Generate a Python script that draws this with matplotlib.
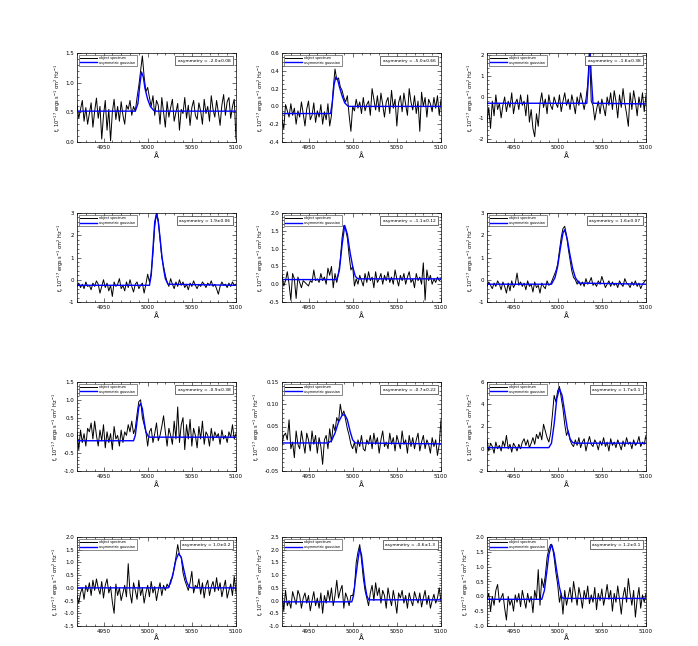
import numpy as np
import matplotlib
matplotlib.use('Agg')
import matplotlib.pyplot as plt

# observed spectra, sampled every 2 A from 4920 to 5100
flux_1 = [0.62, 0.40, 0.55, 0.70, 0.35, 0.58, 0.30, 0.48, 0.66, 0.25,
          0.52, 0.74, 0.40, 0.60, 0.05, 0.45, 0.70, 0.20, 0.55, 0.02,
          0.50, 0.72, 0.38, 0.60, 0.35, 0.68, 0.45, 0.30, 0.62, 0.55,
          0.70, 0.45, 0.60, 0.52, 0.75, 0.95, 1.20, 1.45, 1.10, 0.85,
          0.92, 0.75, 0.60, 0.78, 0.45, 0.70, 0.62, 0.30, 0.75, 0.50,
          0.25, 0.68, 0.42, 0.58, 0.72, 0.35, 0.50, 0.65, 0.20, 0.55,
          0.48, 0.75, 0.40, 0.62, 0.28, 0.58, 0.70, 0.45, 0.38, 0.66,
          0.52, 0.30, 0.72, 0.48, 0.60, 0.35, 0.78, 0.55, 0.42, 0.70,
          0.50, 0.28, 0.62, 0.80, 0.45, 0.68, 0.75, 0.40, 0.60, 0.72,
          0.05]
flux_2 = [-0.15, -0.25, 0.02, -0.05, -0.12, 0.03, -0.10, -0.02, -0.20, -0.05,
          -0.12, 0.05, -0.08, -0.22, -0.03, 0.06, -0.15, -0.10, 0.04, -0.18,
          -0.05, -0.12, 0.02, -0.20, -0.06, -0.15, 0.03, -0.22, -0.10, 0.20,
          0.42, 0.30, 0.32, 0.22, 0.18, 0.10, 0.05, 0.12, -0.10, -0.28,
          0.00, -0.05, 0.08, -0.02, 0.05, -0.08, 0.10, -0.05, 0.02, 0.06,
          -0.10, 0.20, 0.08, -0.04, 0.12, -0.06, 0.15, 0.02, -0.12, 0.05,
          0.10, -0.08, 0.18, -0.02, 0.08, -0.22, 0.04, 0.12, -0.06, 0.15,
          0.02, -0.10, 0.20, 0.05, -0.04, 0.12, -0.08, 0.06, -0.28, 0.16,
          0.00, 0.10, -0.12, 0.08, 0.03, -0.06, 0.10, -0.02, 0.12, -0.10,
          0.08]
flux_3 = [-1.2, -0.5, -1.5, -0.2, -0.9, 0.1, -0.6, -0.3, -1.0, -0.4,
          0.0, -0.7, -0.2, -0.5, 0.2, -0.8, -0.3, -0.1, -0.6, 0.1,
          -0.4, -0.2, -0.9, 0.1, -1.2, -0.6, -1.5, -1.9, -0.8, -1.4,
          -0.3, 0.2, -0.5, -0.1, -0.8, 0.1, -0.4, -0.6, 0.0, -0.3,
          -0.5, 0.1, -0.7, -0.2, 0.2, -0.4, -0.1, -0.6, 0.1, -0.3,
          -0.8, 0.0, -0.4, 0.2, -0.2, -0.6, -0.1, 0.6, 2.3, -0.2,
          -0.4, -1.1, -0.6, -0.2, -0.8, -0.1, -0.5, -0.9, 0.0, -0.4,
          0.2, -0.6, 0.3, -0.2, -1.0, 0.1, -0.5, 0.4, -0.3, -0.8,
          -1.4, 0.2, -0.6, 0.3, -0.2, -0.9, 0.0, -0.5, 0.2, -0.7,
          0.1]
flux_4 = [-0.30, -0.15, -0.35, -0.20, -0.40, -0.10, -0.30, -0.25, -0.45, -0.15,
          -0.30, -0.05, -0.20, -0.60, -0.30, 0.00, -0.35, -0.15, -0.50, -0.25,
          -0.75, -0.10, -0.30, -0.20, 0.05, -0.40, -0.25, -0.50, -0.10, -0.35,
          0.00, -0.30, -0.55, -0.20, -0.10, -0.40, -0.25, -0.15, -0.60, -0.20,
          0.25, -0.10, 0.30, 1.20, 2.40, 3.00, 2.70, 1.80, 1.00, 0.60,
          0.20, -0.10, -0.30, 0.05, -0.20, -0.40, -0.10, -0.30, 0.00, -0.25,
          -0.10, -0.35, -0.20, -0.45, -0.15, -0.30, -0.05, -0.25, -0.40, -0.20,
          -0.30, -0.10, -0.20, -0.35, -0.15, -0.25, -0.05, -0.30, -0.20, -0.40,
          -0.65, -0.30, -0.10, -0.25, -0.20, -0.35, -0.15, -0.30, -0.10, -0.25,
          -0.20]
flux_5 = [0.25, -0.05, 0.10, 0.35, 0.00, -0.45, 0.30, 0.15, -0.40, 0.20,
          0.05, -0.10, 0.10, 0.05, 0.00, -0.05, 0.10, 0.05, 0.40, 0.10,
          0.15, 0.05, 0.30, 0.10, 0.20, 0.00, 0.45, 0.25, 0.50, -0.10,
          0.30, 0.05, 0.30, 0.70, 1.30, 1.65, 1.55, 1.30, 0.80, 0.40,
          0.50, -0.05, 0.15, 0.00, 0.25, 0.10, -0.05, 0.30, 0.05, 0.35,
          0.10, 0.20, -0.10, 0.35, 0.05, 0.15, 0.30, 0.00, 0.25, 0.10,
          0.35, 0.05, 0.20, 0.00, 0.40, 0.15, -0.05, 0.25, 0.10, 0.30,
          0.00, 0.20, 0.35, 0.05, 0.15, -0.10, 0.30, 0.10, 0.20, 0.00,
          0.60, -0.45, 0.40, 0.10, 0.25, 0.00, 0.15, 0.05, 0.20, 0.10,
          0.15]
flux_6 = [-0.30, -0.10, -0.25, -0.40, -0.15, -0.30, -0.05, -0.20, -0.45, -0.10,
          -0.30, -0.60, -0.15, -0.50, -0.05, -0.35, -0.20, 0.30, -0.25, -0.10,
          -0.30, -0.15, -0.45, -0.05, -0.30, -0.20, -0.55, -0.10, -0.35, -0.25,
          -0.60, -0.15, -0.30, -0.40, -0.05, -0.25, -0.20, 0.00, 0.20, 0.40,
          0.70, 1.30, 1.90, 2.30, 2.40, 2.00, 1.40, 0.90, 0.40, 0.10,
          0.00, -0.20, -0.05, -0.25, -0.10, -0.30, 0.05, -0.20, -0.10, 0.10,
          -0.25, -0.15, -0.30, -0.05, -0.20, 0.15, -0.10, -0.35, -0.20, -0.05,
          -0.30, -0.10, -0.25, -0.15, -0.35, -0.05, -0.20, -0.30, 0.05, -0.15,
          -0.20, -0.35, -0.10, -0.25, -0.05, -0.30, -0.15, -0.40, -0.20, -0.10,
          0.00]
flux_7 = [0.10, -0.40, 0.15, -0.20, 0.05, -0.30, 0.20, 0.10, 0.35, -0.10,
          0.40, 0.00, -0.30, 0.15, -0.15, 0.30, -0.35, 0.10, -0.20, 0.05,
          -0.40, 0.25, -0.10, 0.00, -0.30, 0.15, -0.20, 0.10, 0.00, 0.30,
          0.10, 0.40, 0.05, 0.20, 0.60, 0.95, 1.00, 0.50, 0.30, 0.10,
          -0.30, 0.10, 0.20, -0.20, 0.05, 0.35, -0.15, 0.00, 0.25, 0.55,
          0.10, -0.30, 0.20, 0.00, -0.25, 0.40, -0.10, 0.80, -0.20, 0.30,
          0.50, -0.40, 0.30, -0.10, 0.45, -0.30, 0.20, 0.00, -0.35, 0.25,
          -0.10, 0.40, -0.25, 0.10, 0.00, -0.30, 0.20, -0.15, 0.10, -0.05,
          0.05, -0.25, 0.15, -0.10, 0.00, -0.20, 0.10, -0.05, 0.30, -0.10,
          0.05]
flux_8 = [0.010, 0.030, 0.035, 0.020, 0.065, 0.000, 0.015, -0.020, 0.040, 0.010,
          0.000, 0.040, 0.015, -0.010, 0.035, 0.020, -0.005, 0.040, 0.010, 0.030,
          -0.010, 0.025, 0.005, -0.035, 0.020, 0.030, 0.000, 0.045, 0.015, 0.055,
          0.040, 0.070, 0.060, 0.100, 0.075, 0.085, 0.065, 0.045, 0.030, 0.010,
          0.000, 0.015, -0.010, 0.020, 0.005, 0.030, 0.000, -0.005, 0.020, 0.010,
          0.030, 0.000, 0.035, 0.010, 0.025, -0.010, 0.020, 0.040, 0.005, 0.015,
          0.000, 0.035, 0.010, 0.025, -0.005, 0.030, 0.015, 0.000, 0.040, 0.010,
          0.020, -0.010, 0.030, 0.005, 0.025, 0.000, 0.020, 0.035, -0.005, 0.015,
          0.030, 0.000, 0.020, 0.010, -0.010, 0.025, 0.005, 0.020, -0.015, 0.010,
          0.065]
flux_9 = [0.8, -0.2, 0.5, 0.2, -0.4, 0.6, 0.0, 0.3, -0.2, 0.7,
          0.2, 1.2, 0.0, 0.4, -0.3, 0.5, 0.2, -0.2, 0.4, 0.0,
          0.6, 0.9, 0.3, 0.8, 0.1, 0.5, 1.0, 0.4, 1.3, 0.9,
          1.5, 0.8, 2.2, 1.6, 1.0, 0.6, 1.4, 3.0, 4.8, 4.2,
          5.2, 5.6, 4.6, 3.6, 2.2, 1.2, 1.6, 0.8, 0.4, 0.2,
          0.8, 0.3, 1.0, 0.1, 0.6, 0.9, -0.2, 0.5, 1.1, 0.4,
          0.2, 0.8, 0.5, -0.1, 0.7, 0.3, 1.0, 0.2, 0.6, -0.2,
          0.9, 0.3, 0.6, 0.1, 0.8, 0.4, -0.1, 0.7, 0.2, 1.0,
          0.4, 0.6, 0.0, 0.8, 0.3, 0.5, 1.1, 0.2, 0.6, 0.4,
          1.2]
flux_10 = [-0.30, -0.60, -0.20, 0.00, -0.45, 0.10, -0.15, 0.20, -0.30, 0.30,
           -0.10, 0.35, 0.00, -0.25, 0.25, -0.40, 0.10, 0.35, -0.20, 0.05,
           -0.55, -1.00, 0.15, -0.30, 0.00, -0.50, -0.20, 0.10, -0.35, 0.95,
           -0.20, -0.60, 0.20, -0.10, -0.45, 0.30, -0.30, 0.00, -0.60, -0.20,
           0.10, -0.35, 0.25, -0.20, 0.05, -0.50, -0.10, 0.20, -0.30, 0.10,
           -0.10, 0.15, 0.00, 0.30, 0.40, 0.80, 1.20, 1.70, 1.30, 1.20,
           0.60, 0.30, 0.10, -0.10, 0.20, 0.65, -0.20, 0.10, 0.00, 0.35,
           -0.25, 0.20, -0.40, 0.10, 0.30, -0.30, 0.05, 0.25, -0.15, 0.40,
           -0.10, 0.20, -0.35, 0.00, 0.30, -0.40, -0.10, 0.15, -0.30, 0.45,
           -0.20]
flux_11 = [0.30, -0.40, 0.40, -0.20, 0.00, -0.30, 0.35, 0.10, -0.15, 0.40,
           0.20, -0.30, 0.10, 0.30, -0.10, 0.20, -0.40, 0.00, 0.35, -0.20,
           0.10, -0.30, 0.30, -0.50, 0.20, -0.10, 0.40, 0.00, 0.50, -0.20,
           0.20, 0.80, 0.10, 0.40, 0.60, -0.30, 0.30, 0.10, -0.20, 0.20,
           0.20, 0.50, 1.50, 1.90, 2.20, 1.60, 0.90, 0.40, 0.10, -0.20,
           0.30, 0.60, 0.00, 0.70, 0.20, 0.50, -0.10, 0.40, 0.20, -0.30,
           0.50, 0.10, -0.20, 0.40, 0.00, -0.50, 0.30, 0.10, 0.40, -0.10,
           0.20, -0.30, 0.30, 0.00, -0.20, 0.35, 0.10, -0.10, 0.30, -0.25,
           0.10, 0.40, -0.15, 0.20, -0.30, 0.00, 0.25, -0.10, 0.10, 0.50,
           -0.05]
flux_12 = [-0.10, 0.10, -0.50, 0.00, -0.30, 0.20, 0.40, -0.20, -0.05, 0.10,
           -0.40, -0.80, 0.00, -0.30, -0.10, -0.50, 0.05, -0.20, 0.10, -0.35,
           0.20, -0.10, -0.40, 0.10, -0.20, 0.00, -0.55, 0.20, -0.10, 0.90,
           -0.30, 0.60, 0.30, 0.70, 1.30, 1.60, 1.75, 1.70, 1.30, 0.80,
           0.40, -0.20, 0.10, -0.60, 0.20, -0.30, 0.00, 0.30, -0.20, 0.50,
           0.10, -0.30, 0.30, 0.00, -0.40, 0.20, -0.10, 0.35, -0.25, 0.05,
           -0.20, 0.30, -0.45, 0.10, -0.15, 0.25, -0.30, 0.00, 0.40, -0.10,
           0.20, -0.50, 0.10, -0.20, 0.35, -0.10, -0.60, 0.00, 0.30, -0.20,
           0.60, 0.10, -0.30, 0.20, -0.70, -0.10, 0.30, -0.40, 0.05, -0.20,
           0.10]

model_wave_1 = [4920, 4986, 4989, 4991, 4993, 4995, 4997, 5000, 5003, 5007, 5010, 5100]
model_flux_1 = [0.52, 0.52, 0.65, 0.95, 1.18, 1.10, 0.90, 0.72, 0.60, 0.53, 0.52, 0.52]
model_wave_2 = [4920, 4975, 4977, 4979, 4981, 4983, 4985, 4988, 4991, 4995, 5100]
model_flux_2 = [-0.08, -0.08, 0.05, 0.25, 0.33, 0.30, 0.22, 0.12, 0.04, 0.00, 0.00]
model_wave_3 = [4920, 5033, 5035, 5036.5, 5038, 5040, 5100]
model_flux_3 = [-0.30, -0.30, 1.00, 2.30, 1.00, -0.30, -0.33]
model_wave_4 = [4920, 5002, 5004, 5006, 5008, 5010, 5012, 5014, 5016, 5018, 5020, 5023, 5100]
model_flux_4 = [-0.25, -0.25, 0.20, 1.40, 2.60, 2.95, 2.60, 1.90, 1.10, 0.50, 0.05, -0.20, -0.25]
model_wave_5 = [4920, 4982, 4985, 4988, 4991, 4994, 4997, 5000, 5003, 5006, 5100]
model_flux_5 = [0.13, 0.13, 0.40, 1.10, 1.65, 1.40, 0.90, 0.50, 0.22, 0.15, 0.15]
model_wave_6 = [4920, 4993, 4997, 5000, 5003, 5006, 5008, 5011, 5014, 5017, 5020, 5024, 5100]
model_flux_6 = [-0.20, -0.20, 0.10, 0.60, 1.40, 2.10, 2.25, 1.80, 1.10, 0.50, 0.10, -0.15, -0.20]
model_wave_7 = [4920, 4984, 4986, 4988, 4990, 4992, 4994, 4996, 4998, 5001, 5003, 5100]
model_flux_7 = [-0.15, -0.15, 0.00, 0.40, 0.80, 0.90, 0.75, 0.40, 0.10, -0.04, -0.05, -0.05]
model_wave_8 = [4920, 4972, 4976, 4980, 4984, 4988, 4991, 4994, 4997, 5000, 5003, 5100]
model_flux_8 = [0.013, 0.013, 0.018, 0.035, 0.060, 0.075, 0.077, 0.065, 0.040, 0.020, 0.013, 0.011]
model_wave_9 = [4920, 4990, 4993, 4996, 4999, 5002, 5005, 5008, 5011, 5014, 5017, 5020, 5100]
model_flux_9 = [0.1, 0.1, 0.5, 2.2, 4.5, 5.4, 4.8, 3.3, 1.8, 0.9, 0.55, 0.5, 0.5]
model_wave_10 = [4920, 5023, 5026, 5029, 5032, 5035, 5038, 5041, 5044, 5047, 5050, 5100]
model_flux_10 = [0.0, 0.0, 0.2, 0.6, 1.1, 1.35, 1.2, 0.7, 0.25, 0.03, 0.0, 0.0]
model_wave_11 = [4920, 4999, 5001, 5003, 5006, 5008, 5010, 5012, 5014, 5016, 5018, 5100]
model_flux_11 = [-0.05, -0.05, 0.20, 0.80, 1.60, 2.05, 1.80, 1.20, 0.60, 0.20, 0.03, 0.03]
model_wave_12 = [4920, 4982, 4985, 4988, 4990, 4993, 4996, 4999, 5002, 5005, 5008, 5100]
model_flux_12 = [-0.10, -0.10, 0.20, 0.90, 1.40, 1.75, 1.45, 0.85, 0.30, -0.05, -0.07, -0.07]

asym_labels = ['asymmetry = -2.0\u00b10.08', 'asymmetry = -5.0\u00b10.66', 'asymmetry = -1.6\u00b10.38',
               'asymmetry = 1.9\u00b10.06', 'asymmetry = -1.1\u00b10.12', 'asymmetry = 1.6\u00b10.07',
               'asymmetry = -0.9\u00b10.38', 'asymmetry = -0.7\u00b10.22', 'asymmetry = 1.7\u00b10.1',
               'asymmetry = 1.0\u00b10.2', 'asymmetry = -0.6\u00b11.3', 'asymmetry = 1.2\u00b10.1']

y_limits = [(0.0, 1.5), (-0.4, 0.6), (-2.15, 2.1), (-1.0, 3.0), (-0.5, 2.0), (-1.0, 3.0),
            (-1.0, 1.5), (-0.05, 0.15), (-2.0, 6.0), (-1.5, 2.0), (-1.0, 2.5), (-1.0, 2.0)]
y_ticks = [[0.0, 0.5, 1.0, 1.5], [-0.4, -0.2, 0.0, 0.2, 0.4, 0.6], [-2, -1, 0, 1, 2],
           [-1, 0, 1, 2, 3], [-0.5, 0.0, 0.5, 1.0, 1.5, 2.0], [-1, 0, 1, 2, 3],
           [-1.0, -0.5, 0.0, 0.5, 1.0, 1.5], [-0.05, 0.0, 0.05, 0.10, 0.15], [-2, 0, 2, 4, 6],
           [-1.5, -1.0, -0.5, 0.0, 0.5, 1.0, 1.5, 2.0], [-1.0, -0.5, 0.0, 0.5, 1.0, 1.5, 2.0, 2.5],
           [-1.0, -0.5, 0.0, 0.5, 1.0, 1.5, 2.0]]
y_formats = ['%.1f', '%.1f', '%d', '%d', '%.1f', '%d', '%.1f', '%.2f', '%d', '%.1f', '%.1f', '%.1f']
x_ticks = [4950, 5000, 5050, 5100]

fluxes = [flux_1, flux_2, flux_3, flux_4, flux_5, flux_6,
          flux_7, flux_8, flux_9, flux_10, flux_11, flux_12]
model_waves = [model_wave_1, model_wave_2, model_wave_3, model_wave_4, model_wave_5, model_wave_6,
               model_wave_7, model_wave_8, model_wave_9, model_wave_10, model_wave_11, model_wave_12]
model_fluxes = [model_flux_1, model_flux_2, model_flux_3, model_flux_4, model_flux_5, model_flux_6,
                model_flux_7, model_flux_8, model_flux_9, model_flux_10, model_flux_11, model_flux_12]

W, H = 698, 646
fig = plt.figure(figsize=(W / 100, H / 100), dpi=100)

col_left = [77, 282, 487]
row_top = [53, 213, 382, 537]
ax_w, ax_h = 159, 89

for i in range(12):
    r, c = divmod(i, 3)
    ax = fig.add_axes([col_left[c] / W, 1 - (row_top[r] + ax_h) / H, ax_w / W, ax_h / H])
    flux = fluxes[i]
    wave = np.linspace(4920, 5100, len(flux))
    ax.plot(wave, flux, color='black', lw=0.7, label='object spectrum')
    ax.plot(model_waves[i], model_fluxes[i], color='blue', lw=1.0, label='asymmetric gaussian')
    ax.set_xlim(4920, 5100)
    ax.set_ylim(*y_limits[i])
    ax.set_xticks(x_ticks)
    ax.set_yticks(y_ticks[i])
    ax.set_yticklabels([y_formats[i] % v for v in y_ticks[i]])
    ax.minorticks_on()
    ax.tick_params(which='both', direction='in', top=True, right=True, labelsize=4, width=0.4, pad=2)
    ax.tick_params(which='major', length=3)
    ax.tick_params(which='minor', length=1.5)
    for sp in ax.spines.values():
        sp.set_linewidth(0.5)
    # bottom row sits close to the figure edge, keep its label tight
    ax.set_xlabel('\u00c5', fontsize=5, labelpad=0.5 if r == 3 else 2)
    ax.set_ylabel(r'f$_\nu$ 10$^{-17}$ ergs s$^{-1}$ cm$^{2}$ Hz$^{-1}$', fontsize=3.6, labelpad=2)
    leg = ax.legend(loc='upper left', fontsize=2.4, frameon=True, fancybox=False,
                    handlelength=5, borderpad=0.4, labelspacing=0.2)
    leg.get_frame().set_edgecolor('black')
    leg.get_frame().set_linewidth(0.4)
    ax.text(0.965, 0.915, asym_labels[i], transform=ax.transAxes, fontsize=3.2,
            ha='right', va='center',
            bbox=dict(boxstyle='square,pad=0.5', fc='white', ec='black', lw=0.4))

fig.savefig('out.png', dpi=100)
